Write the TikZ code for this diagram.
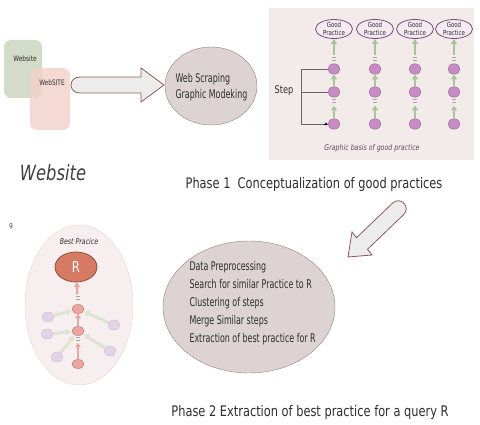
\documentclass[tikz,border=0pt]{standalone}
\usepackage{fontspec}
\setmainfont[FakeStretch=0.78]{DejaVu Sans}
\newfontfamily\narrowfont[FakeStretch=0.66]{DejaVu Sans}
\usetikzlibrary{shapes.geometric,arrows.meta}

\definecolor{txt}{RGB}{45,45,45}
\definecolor{greenbox}{RGB}{210,220,200}
\definecolor{pinkbox}{RGB}{243,208,200}
\definecolor{arrline}{RGB}{140,92,84}
\definecolor{arrfill}{RGB}{236,236,236}
\definecolor{ovalfill}{RGB}{221,211,211}
\definecolor{ovalline}{RGB}{150,128,128}
\definecolor{panelfill}{RGB}{243,235,234}
\definecolor{goodfill}{RGB}{244,234,242}
\definecolor{goodline}{RGB}{120,76,118}
\definecolor{stepfill}{RGB}{200,140,196}
\definecolor{stepline}{RGB}{150,100,148}
\definecolor{arrgreen}{RGB}{170,196,154}
\definecolor{bestfill}{RGB}{247,239,239}
\definecolor{bestline}{RGB}{230,212,212}
\definecolor{rfill}{RGB}{215,122,100}
\definecolor{rline}{RGB}{140,80,64}
\definecolor{chainfill}{RGB}{235,166,160}
\definecolor{chainline}{RGB}{184,106,106}
\definecolor{arrpink}{RGB}{232,166,162}
\definecolor{sidefill}{RGB}{227,211,230}
\definecolor{sideline}{RGB}{205,184,208}
\definecolor{arrpale}{RGB}{222,228,212}

\tikzset{
  site/.style={rounded corners=7pt, inner sep=0pt},
  goodnode/.style={ellipse, draw=goodline, fill=goodfill, line width=0.8pt, minimum width=37pt,
    minimum height=19pt, inner sep=0pt, align=center, text=txt, font=\fontsize{7}{7.5}\selectfont},
  stepnode/.style={ellipse, draw=stepline, fill=stepfill, minimum width=12pt, minimum height=10.5pt, inner sep=0pt},
  chainnode/.style={ellipse, draw=chainline, fill=chainfill, minimum width=12pt, minimum height=9pt, inner sep=0pt},
  sidenode/.style={ellipse, draw=sideline, fill=sidefill, minimum width=12pt, minimum height=10pt, inner sep=0pt},
  greenarr/.style={draw=arrgreen, line width=2.4pt, -{Triangle[length=5pt,width=6pt]}},
  pinkarr/.style={draw=arrpink, line width=2.2pt, -{Triangle[length=4.5pt,width=5.5pt]}},
  palearr/.style={draw=arrpale, line width=3pt, -{Triangle[length=5pt,width=7pt]}, shorten >=1pt},
  dashes/.style={draw=gray!70, line width=0.6pt},
  fatarrow/.style={draw=arrline, fill=arrfill, line width=0.8pt, line join=miter}
}

\begin{document}
\begin{tikzpicture}[x=1pt,y=-1pt,text=txt]
  \useasboundingbox (0,0) rectangle (480,425);

  % websites
  \fill[greenbox,site] (4,40) rectangle (42,98);
  \fill[pinkbox,site,opacity=0.8] (30,68) rectangle (70,130);
  \node[font=\fontsize{7.5}{8}\selectfont] (ws1) at (25,59) {Website};
  \node[font=\fontsize{7.5}{8}\selectfont] (ws2) at (52,83) {WebSITE};
  \node[font=\fontsize{21}{24}\itshape, text=black!75] (website) at (53,173) {Website};

  \draw[fatarrow] (141,77) -- (141,68) -- (164,85) -- (141,102) -- (141,93) -- (80,93)
    .. controls (68,93) and (68,77) .. (80,77) -- cycle;

  \node[ellipse, draw=ovalline, fill=ovalfill, minimum width=92pt, minimum height=78pt] (scrape) at (211,86) {};
  \node[anchor=west, align=left, font=\narrowfont\fontsize{12}{16}\selectfont] (scrapetxt) at (172,87)
    {Web Scraping\\Graphic Modeking};

  % graphic basis of good practice
  \fill[panelfill] (269,8) rectangle (474,160);
  \foreach \x [count=\i] in {334,375,415,454} {
    \node[goodnode] (gp\i) at (\x,29) {Good\\Practice};
    \node[stepnode] (sa\i) at (\x,69) {};
    \node[stepnode] (sb\i) at (\x,92) {};
    \node[stepnode] (sc\i) at (\x,124) {};
    \draw[greenarr, shorten >=8pt] (sc\i) -- (sb\i);
    \draw[greenarr] (sb\i) -- (sa\i);
    \draw[greenarr, shorten <=9pt] (sa\i) -- (gp\i);
    \draw[dashes] (\x-2,57.5) -- (\x+2,57.5) (\x-2,60.5) -- (\x+2,60.5);
    \draw[dashes] (\x-2,99.5) -- (\x+2,99.5) (\x-2,102.5) -- (\x+2,102.5);
  }
  \draw[gray!80!black, line width=0.8pt] (sa1.west) -- ++(-26,0) |- (sc1.west);
  \draw[gray!80!black, line width=0.8pt] (sb1.west) -- ++(-26,0);
  \draw[-{Stealth[length=3pt,width=3pt]}, line width=0.8pt] ([xshift=-4pt]sc1.west) -- (sc1.west);
  \node[font=\fontsize{10.5}{12}\selectfont] (step) at (284,91) {Step};
  \node[font=\fontsize{8}{9}\itshape, text={rgb,255:red,100;green,72;blue,100}] (basis) at (372,148)
    {Graphic basis of good practice};

  \node[font=\fontsize{14.6}{16}\selectfont] (phase1) at (314,184) {Phase 1\ \ Conceptualization of good practices};

  \draw[fatarrow] (356.5,237.7) -- (352,232) -- (348,257) -- (372,255) -- (367.5,249.3) -- (403.5,214.8)
    .. controls (411.4,207.2) and (400.4,195.6) .. (392.5,203.2) -- cycle;

  % extraction
  \node[ellipse, draw=ovalline, fill=ovalfill, minimum width=172pt, minimum height=132pt] (extract) at (249,307) {};
  \node[anchor=north west, align=left, font=\narrowfont\fontsize{12}{18}\selectfont] (steps) at (186,258)
    {Data Preprocessing\\Search for similar Practice to R\\Clustering of steps\\Merge Similar steps\\Extraction of best practice for R};

  \node[font=\fontsize{14.6}{16}\selectfont] (phase2) at (310,412) {Phase 2 Extraction of best practice for a query R};

  % best practice
  \node[font=\fontsize{7}{8}\selectfont] (g) at (11,226) {g};
  \node[ellipse, draw=bestline, fill=bestfill, minimum width=108pt, minimum height=160pt] (best) at (79,305) {};
  \node[font=\fontsize{8}{9}\itshape] (besttxt) at (79,242) {Best Pracice};
  \node[ellipse, draw=rline, fill=rfill, line width=0.8pt, minimum width=42pt, minimum height=30pt,
    text=white, font=\fontsize{15}{16}\selectfont] (R) at (76,267) {R};
  \node[chainnode] (ca) at (78,309) {};
  \node[chainnode] (cb) at (78,331) {};
  \node[chainnode] (cc) at (78,364) {};
  \node[sidenode] (p1) at (48,317) {};
  \node[sidenode] (p2) at (47,334) {};
  \node[sidenode] (p3) at (57,357) {};
  \node[sidenode] (p4) at (114,325) {};
  \node[sidenode] (p5) at (110,351) {};
  \draw[palearr] (p1) -- (ca);
  \draw[palearr] (p4) -- (ca);
  \draw[palearr] (p2) -- (cb);
  \draw[palearr] (p3) -- (cb);
  \draw[palearr] (p5) -- (cb);
  \draw[pinkarr, shorten >=7pt] (cc) -- (cb);
  \draw[pinkarr] (cb) -- (ca);
  \draw[pinkarr, shorten <=10pt] (ca) -- (R);
  \draw[dashes] (76,296.5) -- (80,296.5) (76,299.5) -- (80,299.5);
  \draw[dashes] (76,337.5) -- (80,337.5) (76,340.5) -- (80,340.5);
\end{tikzpicture}
\end{document}
